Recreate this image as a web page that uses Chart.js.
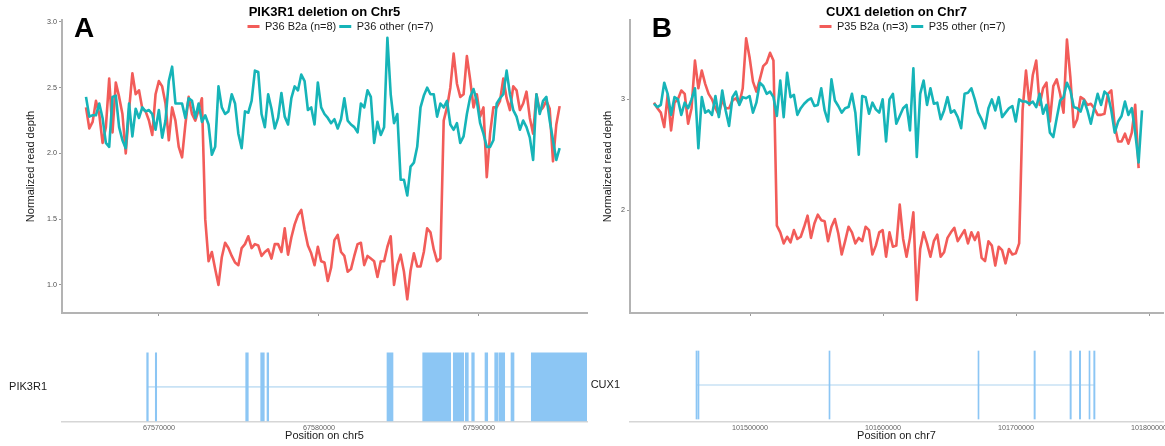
<!DOCTYPE html>
<html>
<head>
<meta charset="utf-8">
<script src="https://cdn.jsdelivr.net/npm/chart.js@4.4.1/dist/chart.umd.min.js"></script>
<style>
  html, body { margin: 0; padding: 0; background: #fff; }
  #wrap { position: relative; width: 1165px; height: 446px; overflow: hidden; }
  canvas { position: absolute; }
</style>
</head>
<body>
<div id="wrap">
  <canvas id="depthA" width="595" height="320" style="left:0;top:0"></canvas>
  <canvas id="depthB" width="585" height="320" style="left:580px;top:0"></canvas>
  <canvas id="geneA" width="595" height="116" style="left:0;top:330px"></canvas>
  <canvas id="geneB" width="585" height="116" style="left:580px;top:330px"></canvas>
</div>
<script>
// --- panel A: PIK3R1 on chr5 ---
const binStartA = 67565438;   // first bin position
const binSizeA = 207;
const redA = [
  2.35, 2.19, 2.24, 2.40, 2.30, 2.08, 2.20, 2.57, 2.16, 2.54,
  2.43, 2.30, 2.00, 2.33, 2.61, 2.45, 2.48, 2.34, 2.32, 2.25,
  2.14, 2.45, 2.55, 2.51, 2.38, 2.10, 2.35, 2.25, 2.05, 1.97,
  2.22, 2.43, 2.30, 2.25, 2.33, 2.42, 1.50, 1.18, 1.25, 1.12,
  1.00, 1.21, 1.32, 1.28, 1.22, 1.17, 1.15, 1.28, 1.31, 1.37,
  1.28, 1.31, 1.30, 1.22, 1.25, 1.27, 1.20, 1.31, 1.31, 1.25,
  1.43, 1.23, 1.36, 1.46, 1.53, 1.57, 1.42, 1.30, 1.24, 1.15,
  1.29, 1.18, 1.17, 1.03, 1.13, 1.34, 1.38, 1.25, 1.22, 1.10,
  1.12, 1.22, 1.31, 1.32, 1.15, 1.22, 1.20, 1.18, 1.06, 1.18,
  1.18, 1.29, 1.37, 1.00, 1.15, 1.23, 1.10, 0.89, 1.11, 1.24,
  1.14, 1.14, 1.25, 1.43, 1.40, 1.27, 1.18, 1.20, 2.25, 2.35,
  2.50, 2.76, 2.53, 2.43, 2.45, 2.74, 2.56, 2.35, 2.45, 2.28,
  2.35, 1.82, 2.15, 2.35, 2.35, 2.40, 2.57, 2.42, 2.33, 2.51,
  2.48, 2.33, 2.38, 2.47, 2.27, 2.15, 2.45, 2.32, 2.35, 2.40,
  2.34, 1.94, 2.22, 2.36
];
const tealA = [
  2.43, 2.28, 2.29, 2.29, 2.38, 2.27, 2.08, 2.05, 2.43, 2.44,
  2.20, 2.10, 2.04, 2.38, 2.13, 2.34, 2.27, 2.35, 2.32, 2.33,
  2.30, 2.18, 2.33, 2.12, 2.25, 2.55, 2.66, 2.38, 2.38, 2.38,
  2.27, 2.42, 2.40, 2.27, 2.38, 2.24, 2.29, 2.22, 1.99, 2.05,
  2.51, 2.35, 2.30, 2.32, 2.45, 2.38, 2.15, 2.04, 2.32, 2.31,
  2.40, 2.63, 2.62, 2.30, 2.20, 2.45, 2.34, 2.19, 2.27, 2.46,
  2.28, 2.22, 2.42, 2.51, 2.48, 2.60, 2.55, 2.33, 2.35, 2.22,
  2.54, 2.35, 2.30, 2.27, 2.23, 2.26, 2.19, 2.26, 2.42, 2.25,
  2.22, 2.20, 2.16, 2.38, 2.35, 2.48, 2.43, 2.08, 2.24, 2.14,
  2.20, 2.88, 2.45, 2.23, 2.30, 1.80, 1.80, 1.68, 1.90, 1.93,
  2.05, 2.35, 2.44, 2.50, 2.45, 2.45, 2.28, 2.38, 2.35, 2.40,
  2.22, 2.18, 2.23, 2.08, 2.13, 2.30, 2.43, 2.49, 2.40, 2.23,
  2.15, 2.05, 2.05, 2.10, 2.38, 2.42, 2.45, 2.63, 2.45, 2.33,
  2.28, 2.18, 2.25, 2.20, 2.12, 1.95, 2.45, 2.30, 2.40, 2.43,
  2.25, 2.10, 1.95, 2.04
];
const seriesA = ['P36 B2a (n=8)', 'P36 other (n=7)'];
const yTicksA = [1.0, 1.5, 2.0, 2.5, 3.0];
const yLabelsA = ['1.0', '1.5', '2.0', '2.5', '3.0'];
const xTicksA = [67570000, 67580000, 67590000];
const exonsA = [
  [67569231, 67569331], [67569769, 67569856], [67575419, 67575581],
  [67576356, 67576581], [67576750, 67576856], [67584250, 67584625],
  [67586481, 67588231], [67588394, 67589044], [67589144, 67589331],
  [67589544, 67589706], [67590375, 67590544], [67590981, 67591188],
  [67591250, 67591606], [67592000, 67592188], [67593269, 67596750]
];
const intronA = [67569300, 67596750];

// --- panel B: CUX1 on chr7 ---
const binStartB = 101427820;
const binSizeB = 2566;
const redB = [
  2.97, 2.92, 2.88, 2.75, 3.04, 2.72, 2.97, 3.00, 3.08, 3.05,
  2.78, 2.92, 3.35, 3.10, 3.26, 3.14, 3.05, 3.00, 2.92, 2.86,
  3.00, 2.92, 2.92, 2.99, 3.01, 2.96, 3.10, 3.55, 3.38, 3.16,
  3.07, 3.18, 3.30, 3.33, 3.42, 3.35, 1.86, 1.80, 1.70, 1.76,
  1.71, 1.82, 1.74, 1.76, 1.85, 1.95, 1.75, 1.88, 1.96, 1.91,
  1.90, 1.72, 1.85, 1.92, 1.79, 1.60, 1.72, 1.85, 1.80, 1.70,
  1.75, 1.72, 1.85, 1.82, 1.60, 1.68, 1.80, 1.82, 1.58, 1.80,
  1.67, 1.68, 2.05, 1.74, 1.58, 1.75, 1.98, 1.19, 1.65, 1.80,
  1.70, 1.58, 1.72, 1.78, 1.58, 1.62, 1.75, 1.80, 1.84, 1.72,
  1.77, 1.82, 1.70, 1.80, 1.73, 1.80, 1.57, 1.54, 1.72, 1.68,
  1.50, 1.67, 1.64, 1.52, 1.65, 1.60, 1.61, 1.70, 2.90, 3.26,
  2.95, 3.22, 3.35, 2.95, 3.10, 3.15, 2.80, 3.12, 3.18, 3.05,
  2.88, 3.54, 3.20, 2.75, 2.82, 3.02, 3.00, 2.95, 2.96, 2.92,
  2.86, 2.86, 2.87, 3.05, 3.08, 2.76, 2.62, 2.62, 2.69, 2.60,
  2.70, 2.95, 2.38, null
];
const tealB = [
  2.96, 2.93, 2.95, 3.15, 3.05, 2.86, 3.02, 3.00, 2.86, 2.97,
  2.92, 3.00, 3.10, 2.56, 3.02, 2.88, 2.90, 2.86, 3.03, 2.84,
  3.08, 2.90, 2.76, 3.02, 3.07, 2.95, 3.02, 3.01, 3.03, 2.88,
  2.97, 3.15, 3.12, 3.05, 3.07, 3.02, 2.85, 3.17, 2.84, 3.24,
  3.02, 3.04, 2.86, 2.92, 2.96, 2.99, 3.01, 2.94, 2.95, 3.10,
  2.90, 2.80, 3.18, 2.99, 2.94, 2.88, 2.92, 2.93, 3.05, 2.88,
  2.50, 3.03, 3.02, 2.87, 2.97, 2.91, 2.88, 3.00, 2.62, 3.00,
  3.05, 2.78, 2.85, 2.92, 2.95, 2.72, 3.28, 2.48, 3.05, 3.17,
  2.95, 3.10, 2.96, 2.97, 2.82, 2.90, 3.02, 2.88, 2.90, 2.84,
  2.74, 3.05, 3.06, 3.10, 3.00, 2.88, 2.82, 2.74, 2.92, 3.00,
  2.90, 3.02, 2.84, 2.88, 2.92, 2.94, 2.80, 3.00, 2.98, 2.98,
  2.96, 2.98, 2.93, 3.05, 2.87, 2.95, 2.70, 2.66, 2.83, 2.99,
  3.02, 3.15, 3.08, 2.93, 2.92, 2.89, 2.99, 2.90, 2.78, 2.92,
  3.05, 2.95, 3.07, 3.04, 2.90, 2.70, 2.80, 2.85, 2.98, 2.86,
  2.92, 2.70, 2.43, 2.90
];
const seriesB = ['P35 B2a (n=3)', 'P35 other (n=7)'];
const yTicksB = [2, 3];
const yLabelsB = ['2', '3'];
const xTicksB = [101500000, 101600000, 101700000, 101800000];
const exonsB = [
  [101459398, 101460300], [101460902, 101461654], [101559398, 101560150],
  [101671429, 101672180], [101713534, 101714511], [101740602, 101741579],
  [101747594, 101748647], [101754887, 101755639], [101758421, 101759398]
];
const intronB = [101460300, 101759000];

const RED = '#f25c59';
const TEAL = '#16b4b8';
const EXON = '#8cc6f4';
const INTRON = '#c8e2f5';
const AXIS = '#b3b3b3';

Chart.defaults.font.family = '"Liberation Sans", Arial, Helvetica, sans-serif';

// genomic positions of the bins
function binPositions(start, size, n) {
  const out = [];
  for (let i = 0; i < n; i++) out.push(start + i * size);
  return out;
}

// legend overlaps the top of the plot panel, like the ggplot original:
// it takes no layout space (maxHeight tiny), then gets its height back here
const legendShift = {
  id: 'legendShift',
  afterLayout(chart, args, opts) {
    const lg = chart.legend;
    if (!lg) return;
    lg.left += opts.dx; lg.right += opts.dx;
    lg.top += opts.dy;
    lg.bottom = lg.top + 20;
    lg.height = 20;
  }
};

// big panel letter (A / B)
const panelTag = {
  id: 'panelTag',
  afterDraw(chart, args, opts) {
    const ctx = chart.ctx;
    ctx.save();
    ctx.font = 'bold 28px "Liberation Sans", Arial, sans-serif';
    ctx.fillStyle = '#000';
    ctx.textBaseline = 'alphabetic';
    ctx.fillText(opts.text, opts.x, opts.y);
    ctx.restore();
  }
};

function depthChart(id, p) {
  const pos = binPositions(p.binStart, p.binSize, p.red.length);
  const pts = vals => vals.map((v, i) => ({ x: pos[i], y: v }));
  return new Chart(document.getElementById(id), {
    type: 'line',
    data: {
      datasets: [
        { label: p.series[0], data: pts(p.red), borderColor: RED, backgroundColor: RED, order: 1 },
        { label: p.series[1], data: pts(p.teal), borderColor: TEAL, backgroundColor: TEAL, order: 0 }
      ]
    },
    options: {
      responsive: false,
      animation: false,
      devicePixelRatio: 1,
      events: [],
      layout: { padding: { left: 0, top: 0, bottom: 0, right: p.padRight } },
      elements: {
        line: { borderWidth: 2.6, tension: 0, borderJoinStyle: 'round' },
        point: { radius: 0, borderWidth: 3 }
      },
      scales: {
        x: {
          type: 'linear', min: p.xMin, max: p.xMax,
          afterBuildTicks: s => { s.ticks = p.xTicks.map(v => ({ value: v })); },
          afterFit: s => { s.height = 7; s.paddingLeft = 0; s.paddingRight = 0; },
          ticks: { display: false },
          grid: { drawOnChartArea: false, drawTicks: true, tickLength: 3, tickColor: '#9a9a9a' },
          border: { color: AXIS, width: 2 }
        },
        y: {
          min: p.yMin, max: p.yMax,
          afterBuildTicks: s => { s.ticks = p.yTicks.map(v => ({ value: v })); },
          afterFit: s => { s.width = p.yWidth; s.paddingTop = 0; s.paddingBottom = 0; },
          ticks: { color: '#4d4d4d', font: { size: 7.2 }, padding: 2, callback: (v, i) => p.yLabels[i] },
          grid: { drawOnChartArea: false, drawTicks: true, tickLength: 3, tickColor: '#9a9a9a' },
          border: { color: AXIS, width: 2 },
          title: {
            display: true, text: 'Normalized read depth', color: '#1a1a1a',
            font: { size: 11 }, padding: { top: p.yTitlePad, bottom: 0 }
          }
        }
      },
      plugins: {
        title: {
          display: true, text: p.title, fullSize: false, color: '#000',
          font: { size: 13, weight: 'bold' }, padding: { top: 4.4, bottom: 0 }
        },
        legend: {
          position: 'top',
          fullSize: false,
          maxHeight: 0.01,
          labels: {
            usePointStyle: true, pointStyle: 'line', pointStyleWidth: 12,
            color: '#1a1a1a', font: { size: 11 }, padding: 3,
            sort: (a, b) => a.datasetIndex - b.datasetIndex
          }
        },
        tooltip: { enabled: false },
        legendShift: { dx: 16, dy: -2 },
        panelTag: { text: p.tag, x: p.tagX, y: 36.5 }
      }
    },
    plugins: [legendShift, panelTag]
  });
}

function geneChart(id, p) {
  return new Chart(document.getElementById(id), {
    type: 'bar',
    data: {
      labels: [p.gene],
      datasets: [
        { data: p.exons.map(e => ({ x: e, y: p.gene })), backgroundColor: EXON,
          grouped: false, barPercentage: 1, categoryPercentage: 1, maxBarThickness: 68 },
        { data: [{ x: p.intron, y: p.gene }], backgroundColor: INTRON,
          grouped: false, barPercentage: 1, categoryPercentage: 1, maxBarThickness: 1 }
      ]
    },
    options: {
      indexAxis: 'y',
      responsive: false,
      animation: false,
      devicePixelRatio: 1,
      events: [],
      layout: { padding: { left: 0, top: 18, bottom: 0, right: p.padRight } },
      scales: {
        x: {
          type: 'linear', min: p.xMin, max: p.xMax,
          afterBuildTicks: s => { s.ticks = p.xTicks.map(v => ({ value: v })); },
          afterFit: s => { s.height = 24; s.paddingLeft = 0; s.paddingRight = 0; },
          ticks: { color: '#666', font: { size: 7.2 }, padding: 2, autoSkip: false, maxRotation: 0,
                   callback: v => String(v) },
          grid: { drawOnChartArea: false, drawTicks: false },
          border: { color: '#d6d6d6', width: 1.5 },
          title: {
            display: true, text: p.xTitle, color: '#1a1a1a',
            font: { size: 11 }, padding: { top: 0, bottom: 3 }
          }
        },
        y: {
          type: 'category',
          afterFit: s => { s.width = p.yWidth; },
          ticks: { color: '#1a1a1a', font: { size: 11 }, padding: p.labelPad },
          grid: { display: false, drawTicks: false },
          border: { display: false }
        }
      },
      plugins: { legend: { display: false }, tooltip: { enabled: false } }
    }
  });
}

// x ranges follow the shared axis of each panel
const xMinA = 67563938, xMaxA = 67596750;
const xMinB = 101409774, xMaxB = 101810526;

depthChart('depthA', {
  binStart: binStartA, binSize: binSizeA, red: redA, teal: tealA, series: seriesA,
  xMin: xMinA, xMax: xMaxA, xTicks: xTicksA,
  yMin: 0.786, yMax: 3.015, yTicks: yTicksA, yLabels: yLabelsA,
  yWidth: 62, yTitlePad: 24.4, padRight: 8,
  title: 'PIK3R1 deletion on Chr5', tag: 'A', tagX: 74
});
depthChart('depthB', {
  binStart: binStartB, binSize: binSizeB, red: redB, teal: tealB, series: seriesB,
  xMin: xMinB, xMax: xMaxB, xTicks: xTicksB,
  yMin: 1.072, yMax: 3.716, yTicks: yTicksB, yLabels: yLabelsB,
  yWidth: 50, yTitlePad: 21.4, padRight: 2,
  title: 'CUX1 deletion on Chr7', tag: 'B', tagX: 71.7
});
geneChart('geneA', {
  gene: 'PIK3R1', exons: exonsA, intron: intronA,
  xMin: xMinA, xMax: xMaxA, xTicks: xTicksA, xTitle: 'Position on chr5',
  yWidth: 62, labelPad: 15, padRight: 8
});
geneChart('geneB', {
  gene: 'CUX1', exons: exonsB, intron: intronB,
  xMin: xMinB, xMax: xMaxB, xTicks: xTicksB, xTitle: 'Position on chr7',
  yWidth: 50, labelPad: 10, padRight: 2
});
</script>
</body>
</html>
